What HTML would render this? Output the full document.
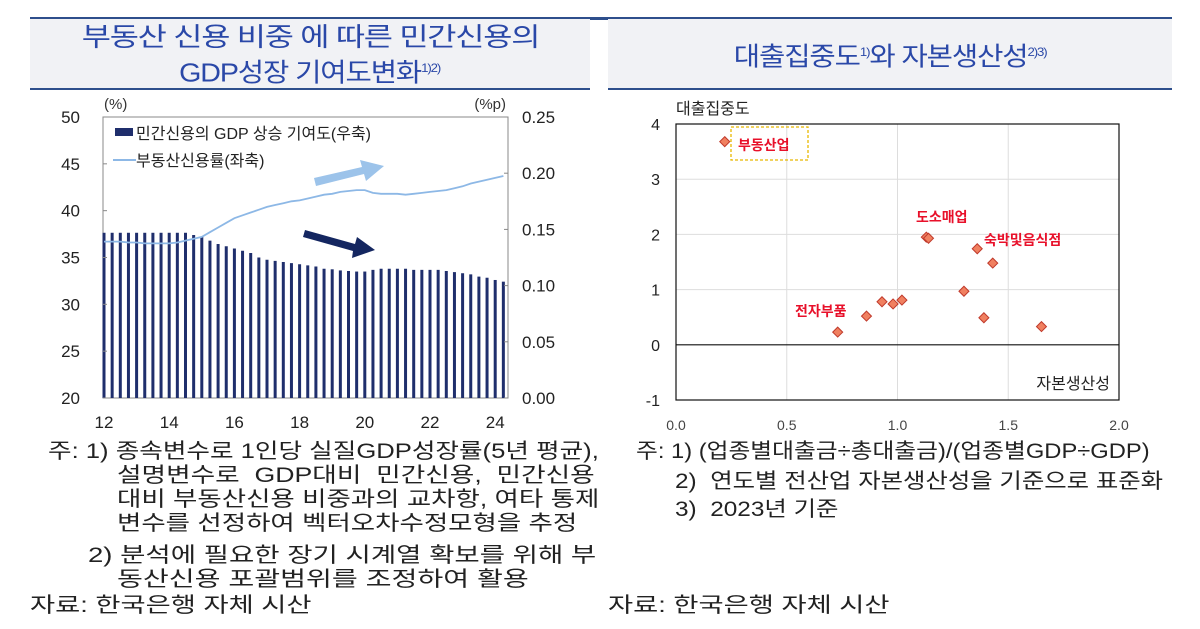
<!DOCTYPE html>
<html><head><meta charset="utf-8">
<style>
body{margin:0;width:1200px;height:629px;background:#fff;position:relative;overflow:hidden;font-family:"Liberation Sans","Noto Sans CJK KR",sans-serif;color:#111}
.t{position:absolute;white-space:nowrap;transform-origin:0 50%}
.hdr{position:absolute;top:19px;height:69px;background:#f1f2f5;color:#2a48a8;font-size:26px;text-align:center;font-family:"Liberation Sans","Noto Sans CJK KR",sans-serif;letter-spacing:-1px}
.hdr span{display:inline-block;transform-origin:50% 50%}
.note{font-size:21px;line-height:24px;color:#222}
</style></head><body>
<div style="position:absolute;left:30px;top:17px;width:1142px;height:3px;background:#2e4f8c"></div>
<div class="hdr" style="left:30px;width:560px;padding-top:3px;height:66px;line-height:31px;border-bottom:2px solid #2e4f8c"><span style="transform:scaleX(1.22)">부동산 신용 비중 에 따른 민간신용의</span><br><span style="transform:scaleX(1.1)">GDP성장 기여도변화<sup style="font-size:12px">1)2)</sup></span></div>
<div class="hdr" style="left:608px;width:564px;line-height:66px;border-bottom:2px solid #2e4f8c"><span style="transform:scaleX(1.1)">대출집중도<sup style="font-size:12px">1)</sup>와 자본생산성<sup style="font-size:12px">2)3)</sup></span></div>

<svg width="1200" height="629" style="position:absolute;left:0;top:0" font-family="Liberation Sans, Noto Sans CJK KR, sans-serif">
<g id="left"></g>
<g id="right"></g>
</svg>

<div class="t note" style="left:48px;top:440px;transform:scaleX(1.22)">주: 1) 종속변수로 1인당 실질GDP성장률(5년 평균),</div>
<div class="t note" style="left:117px;top:464px;transform:scaleX(1.27)">설명변수로 &nbsp;GDP대비 &nbsp;민간신용, &nbsp;민간신용</div>
<div class="t note" style="left:117px;top:488px;transform:scaleX(1.26)">대비 부동산신용 비중과의 교차항, 여타 통제</div>
<div class="t note" style="left:117px;top:512px;transform:scaleX(1.26)">변수를 선정하여 벡터오차수정모형을 추정</div>
<div class="t note" style="left:88px;top:544px;transform:scaleX(1.31)">2) 분석에 필요한 장기 시계열 확보를 위해 부</div>
<div class="t note" style="left:117px;top:568px;transform:scaleX(1.34)">동산신용 포괄범위를 조정하여 활용</div>
<div class="t note" style="left:30px;top:594px;transform:scaleX(1.3)">자료: 한국은행 자체 시산</div>
<div class="t note" style="left:636px;top:440px;transform:scaleX(1.13)">주: 1) (업종별대출금÷총대출금)/(업종별GDP÷GDP)</div>
<div class="t note" style="left:675px;top:470px;transform:scaleX(1.16)">2) &nbsp;연도별 전산업 자본생산성을 기준으로 표준화</div>
<div class="t note" style="left:675px;top:498px;transform:scaleX(1.16)">3) &nbsp;2023년 기준</div>
<div class="t note" style="left:608px;top:594px;transform:scaleX(1.3)">자료: 한국은행 자체 시산</div>

<script>
// ---- left chart data ----
const barValues=[0.147,0.147,0.147,0.147,0.147,0.147,0.147,0.147,0.147,0.147,0.147,0.145,0.1435,0.140,0.137,0.135,0.133,0.131,0.129,0.125,0.123,0.122,0.121,0.120,0.119,0.118,0.117,0.115,0.1145,0.1135,0.113,0.1125,0.1125,0.114,0.115,0.115,0.115,0.115,0.114,0.114,0.114,0.114,0.113,0.112,0.111,0.110,0.108,0.107,0.105,0.1035];
const lineValues=[36.7,36.7,36.7,36.6,36.6,36.5,36.5,36.5,36.5,36.6,36.8,37.0,37.2,37.7,38.2,38.7,39.2,39.5,39.8,40.1,40.4,40.6,40.8,41.0,41.1,41.3,41.5,41.7,41.8,42.0,42.1,42.2,42.2,41.9,41.8,41.8,41.8,41.7,41.8,41.9,42.0,42.1,42.2,42.4,42.6,42.9,43.1,43.3,43.5,43.7];
const leftTicks=[20,25,30,35,40,45,50];
const rightTicks=["0.00","0.05","0.10","0.15","0.20","0.25"];
const xTicks=[12,14,16,18,20,22,24];
// ---- right chart data ----
const scX=[0.22,0.73,0.86,0.93,0.98,1.02,1.13,1.14,1.30,1.36,1.39,1.43,1.65];
const scY=[3.68,0.23,0.52,0.78,0.74,0.81,1.95,1.93,0.97,1.74,0.49,1.48,0.33];
const sxTicks=["0.0","0.5","1.0","1.5","2.0"];
const syTicks=[-1,0,1,2,3,4];

const NS="http://www.w3.org/2000/svg";
function mk(p,tag,a,txt){const e=document.createElementNS(NS,tag);for(const k in a)e.setAttribute(k,a[k]);if(txt!==undefined)e.textContent=txt;p.appendChild(e);return e;}

// left axes
const L=document.getElementById('left');
const PL=103,PR=508,PT=117,PB=398;
const xs=t=>104+(t-12)*32.6;
const yl=v=>PB-(v-20)/30*(PB-PT);
const yr=v=>PB-v/0.25*(PB-PT);
let fr=mk(L,'rect',{x:PL,y:PT,width:PR-PL,height:PB-PT,fill:'none',stroke:'#888','stroke-width':1});

barValues.forEach((v,i)=>{const t=12+i/4;const r=mk(L,'rect',{x:xs(t)-1.5,y:yr(v),width:3,height:PB-yr(v),fill:'#1f2e6c'});

});
let d=lineValues.map((v,i)=>(i?'L':'M')+xs(12+i/4).toFixed(1)+','+yl(v).toFixed(1)).join(' ');
let ln=mk(L,'path',{d:d,fill:'none',stroke:'#8db8e6','stroke-width':1.8});

leftTicks.forEach(v=>{const tx=mk(L,'text',{x:80,y:yl(v)+6,'font-size':17,'text-anchor':'end',fill:'#222'},v);

mk(L,'line',{x1:PL,x2:PL+4,y1:yl(v),y2:yl(v),stroke:'#888'});});
rightTicks.forEach(v=>{const tx=mk(L,'text',{x:522,y:yr(+v)+6,'font-size':17,fill:'#222'},v);

mk(L,'line',{x1:PR-4,x2:PR,y1:yr(+v),y2:yr(+v),stroke:'#888'});});
xTicks.forEach(v=>{const tx=mk(L,'text',{x:xs(v),y:428,'font-size':17,'text-anchor':'middle',fill:'#222'},v);
});
let u1=mk(L,'text',{x:104,y:109,'font-size':15,fill:'#333'},'(%)');
let u2=mk(L,'text',{x:506,y:109,'font-size':15,'text-anchor':'end',fill:'#333'},'(%p)');
mk(L,'rect',{x:115,y:128,width:18,height:8,fill:'#1f2e6c'});
let lg1=mk(L,'text',{x:136,y:139,'font-size':16,fill:'#222'},'민간신용의 GDP 상승 기여도(우축)');
mk(L,'line',{x1:113,x2:136,y1:160,y2:160,stroke:'#8db8e6','stroke-width':2});
let lg2=mk(L,'text',{x:136,y:166,'font-size':16,fill:'#222'},'부동산신용률(좌축)');
let a1=mk(L,'polygon',{points:'314,178 362,167 360,160 384,166 366,181 364,174 316,186',fill:'#9cc3ea'});
let a2=mk(L,'polygon',{points:'305,230 355,244 357,237 375,250 352,258 353,251 303,237',fill:'#142660'});

// right scatter
const R=document.getElementById('right');
const SL=676,SR=1119,ST=124,SB=400;
const sx=v=>SL+v/2*(SR-SL);
const sy=v=>SB-(v+1)/5*(SB-ST);
sxTicks.forEach(v=>{if(+v>0&&+v<2)mk(R,'line',{x1:sx(+v),x2:sx(+v),y1:ST,y2:SB,stroke:'#ddd'});
const tx=mk(R,'text',{x:sx(+v),y:430,'font-size':14,'text-anchor':'middle',fill:'#444'},v);
});
syTicks.forEach(v=>{if(v>0&&v<4)mk(R,'line',{x1:SL,x2:SR,y1:sy(v),y2:sy(v),stroke:'#ddd'});
const tx=mk(R,'text',{x:660,y:sy(v)+6,'font-size':16,'text-anchor':'end',fill:'#222'},v);
});
let f2=mk(R,'rect',{x:SL,y:ST,width:SR-SL,height:SB-ST,fill:'none',stroke:'#111','stroke-width':1.2});

mk(R,'line',{x1:SL,x2:SR,y1:sy(0),y2:sy(0),stroke:'#111','stroke-width':1.2});
let yt=mk(R,'text',{x:676,y:114,'font-size':16,fill:'#222'},'대출집중도');
let xt=mk(R,'text',{x:1110,y:389,'font-size':16,'text-anchor':'end',fill:'#222'},'자본생산성');
scX.forEach((v,i)=>{const cx=sx(v),cy=sy(scY[i]);const p=mk(R,'polygon',{points:`${cx},${cy-5} ${cx+5},${cy} ${cx},${cy+5} ${cx-5},${cy}`,fill:'#f08060',stroke:'#c0392b','stroke-width':1});

});
mk(R,'rect',{x:731,y:127,width:77,height:33,fill:'none',stroke:'#e8b800','stroke-width':1.3,'stroke-dasharray':'3,2'});
[['부동산업',738,150],['도소매업',916,222],['숙박및음식점',984,245],['전자부품',795,316]].forEach(a=>{const t=mk(R,'text',{x:a[1],y:a[2],'font-size':14,'font-weight':'bold',fill:'#e8102a'},a[0]);

});
</script>
</body></html>
